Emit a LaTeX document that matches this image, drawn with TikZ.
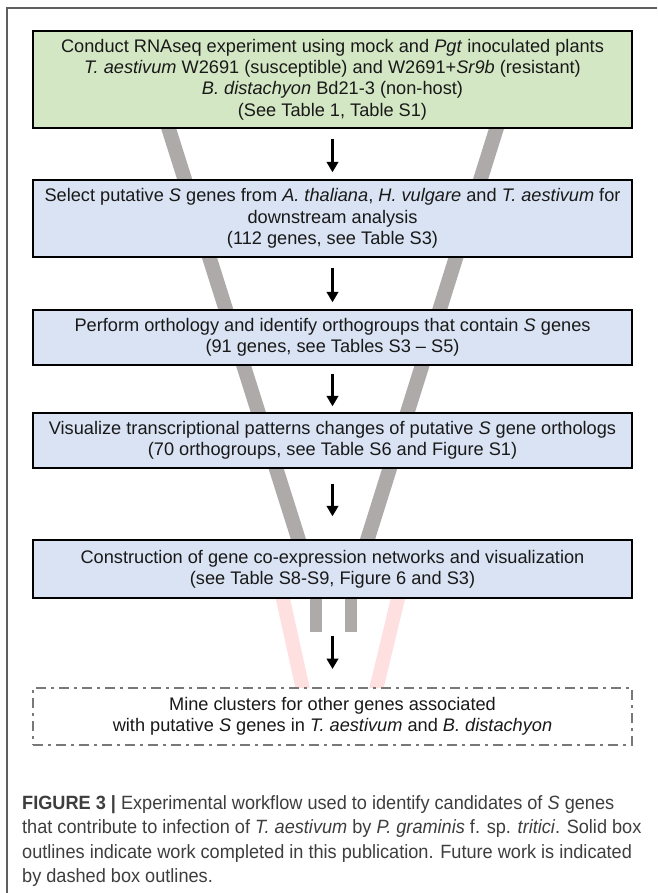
\documentclass[tikz,border=0pt]{standalone}
\usepackage{fontspec}
\setmainfont{Liberation Sans}
\newfontfamily\capfont[FakeStretch=0.945]{Liberation Sans}
\usetikzlibrary{arrows.meta}
\definecolor{boxgreen}{RGB}{212,231,196}
\definecolor{boxblue}{RGB}{218,227,243}
\definecolor{bargray}{RGB}{174,170,170}
\definecolor{barpink}{RGB}{255,224,224}
\definecolor{framegray}{RGB}{95,95,95}
\definecolor{dashgray}{RGB}{120,120,120}
\definecolor{txt}{RGB}{25,25,25}
\definecolor{captxt}{RGB}{62,62,62}
\begin{document}
\begin{tikzpicture}[x=1pt,y=-1pt,
  stepbox/.style={draw=black, line width=1.4pt, minimum width=599pt, inner sep=0pt,
    align=center, font=\fontsize{18.2}{21.3}\selectfont, text=txt, fill=boxblue},
  futurebox/.style={draw=dashgray, line width=2pt, minimum width=599pt, inner sep=0pt,
    align=center, font=\fontsize{18.2}{21.3}\selectfont, text=txt, fill=white,
    dash pattern=on 10pt off 5pt on 3pt off 5pt},
  funnel/.style={draw=bargray, line width=14.5pt},
  stub/.style={draw=bargray, line width=12pt},
  ghost/.style={draw=barpink, line width=14pt},
  flow/.style={draw=black, line width=2.6pt, -{Triangle[width=11.5pt,length=10.5pt]}},
  captext/.style={anchor=base west, inner sep=0pt, text=captxt, font=\capfont\fontsize{19.2}{24}\selectfont}
]
\useasboundingbox (0,0) rectangle (657,893);
\fill[white] (0,0) rectangle (657,893);
% frame
\draw[framegray, line width=1.5pt] (657,8) -- (7,8) -- (7,893);
% funnel bars
\coordinate (fl1) at (147,60);
\coordinate (fl2) at (305,560);
\coordinate (fr1) at (518,60);
\coordinate (fr2) at (361,560);
\draw[funnel] (fl1) -- (fl2);
\draw[funnel] (fr1) -- (fr2);
% pink ghost lines
\coordinate (gl1) at (281,590);
\coordinate (gl2) at (303,690);
\coordinate (gr1) at (400,590);
\coordinate (gr2) at (376,690);
\draw[ghost] (gl1) -- (gl2);
\draw[ghost] (gr1) -- (gr2);
% stubs
\coordinate (sl1) at (316,590);
\coordinate (sl2) at (316,632);
\coordinate (sr1) at (351,590);
\coordinate (sr2) at (351,632);
\draw[stub] (sl1) -- (sl2);
\draw[stub] (sr1) -- (sr2);
% boxes
\node[stepbox, fill=boxgreen, minimum height=97pt] (b1) at (332.5,79.5)
 {Conduct RNAseq experiment using mock and \textit{Pgt} inoculated plants\\
  \textit{T. aestivum} W2691 (susceptible) and W2691+\textit{Sr9b} (resistant)\\
  \textit{B. distachyon} Bd21-3 (non-host)\\
  (See Table 1, Table S1)};
\node[stepbox, minimum height=77pt] (b2) at (332.5,218.5)
 {Select putative \textit{S} genes from \textit{A. thaliana}, \textit{H. vulgare} and \textit{T. aestivum} for\\
  downstream analysis\\
  (112 genes, see Table S3)};
\node[stepbox, minimum height=55pt] (b3) at (332.5,337.5)
 {Perform orthology and identify orthogroups that contain \textit{S} genes\\
  (91 genes, see Tables S3 -- S5)};
\node[stepbox, minimum height=55pt] (b4) at (332.5,440.5)
 {Visualize transcriptional patterns changes of putative \textit{S} gene orthologs\\
  (70 orthogroups, see Table S6 and Figure S1)};
\node[stepbox, minimum height=58pt] (b5) at (332.5,569)
 {Construction of gene co-expression networks and visualization\\
  (see Table S8-S9, Figure 6 and S3)};
\node[futurebox, minimum height=57pt] (b6) at (332.5,716.5)
 {Mine clusters for other genes associated\\
  with putative \textit{S} genes in \textit{T. aestivum} and \textit{B. distachyon}};
% arrows
\draw[flow] ([yshift=-10pt]b1.south) -- ([yshift=7pt]b2.north);
\draw[flow] ([yshift=-10pt]b2.south) -- ([yshift=7pt]b3.north);
\draw[flow] ([yshift=-8pt]b3.south) -- ([yshift=6pt]b4.north);
\draw[flow] ([yshift=-15pt]b4.south) -- ([yshift=23pt]b5.north);
\draw[flow] ([yshift=-37pt]b5.south) -- ([yshift=18pt]b6.north);
% caption
\node[captext] (c1) at (22,809) {\textbf{FIGURE 3 |} Experimental workflow used to identify candidates of \textit{S} genes};
\node[captext] (c2) at (22,833.5) {that contribute to infection of \textit{T. aestivum} by \textit{P. graminis} f. sp. \textit{tritici}. Solid box};
\node[captext] (c3) at (22,858) {outlines indicate work completed in this publication. Future work is indicated};
\node[captext] (c4) at (22,882.5) {by dashed box outlines.};
\end{tikzpicture}
\end{document}
